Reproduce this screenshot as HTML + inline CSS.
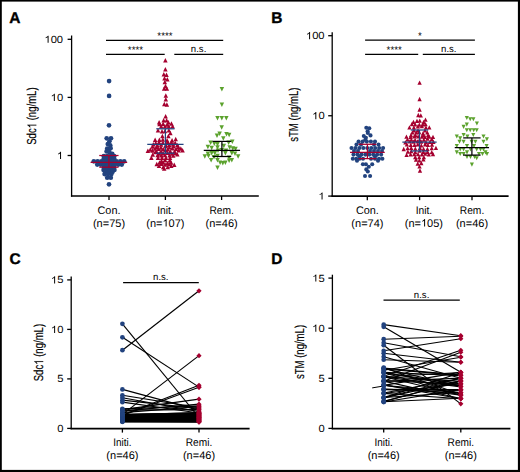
<!DOCTYPE html>
<html><head><meta charset="utf-8"><style>
html,body{margin:0;padding:0;background:#fff;}
svg{display:block;font-family:"Liberation Sans", sans-serif;text-rendering:geometricPrecision;}
.t{}
</style></head><body>
<svg width="520" height="472" viewBox="0 0 520 472">
<rect width="520" height="472" fill="#fff"/>
<rect x="0" y="0" width="520" height="1.6" fill="#000"/>
<rect x="0" y="0" width="1.8" height="472" fill="#000"/>
<rect x="517.9" y="0" width="2.1" height="472" fill="#000"/>
<rect x="0" y="469.9" width="520" height="2.1" fill="#000"/>
<text x="9.30" y="23.00" font-size="15.5" text-anchor="start" font-weight="bold" stroke="#000" stroke-width="0.35">A</text>
<text x="271.20" y="23.00" font-size="15.5" text-anchor="start" font-weight="bold" stroke="#000" stroke-width="0.35">B</text>
<text x="9.60" y="263.60" font-size="15.5" text-anchor="start" font-weight="bold" stroke="#000" stroke-width="0.35">C</text>
<text x="271.20" y="263.60" font-size="15.5" text-anchor="start" font-weight="bold" stroke="#000" stroke-width="0.35">D</text>
<line x1="71.60" y1="35.50" x2="71.60" y2="196.65" stroke="#000" stroke-width="1.3"/>
<line x1="70.95" y1="196.00" x2="258.80" y2="196.00" stroke="#000" stroke-width="1.6"/>
<line x1="67.60" y1="39.30" x2="71.60" y2="39.30" stroke="#000" stroke-width="1.3"/>
<g transform="translate(63.10,42.80) scale(1.0,0.93)"><path d="M763 0H583V1147Q518 1085 412 1023Q306 961 222 930V1104Q373 1175 486 1276Q599 1377 646 1472H763Z" transform="translate(-18.687,0) scale(0.00547,-0.00523)"/><text x="-12.458" y="0" font-size="11.2" class="t" xml:space="preserve">00</text></g>
<line x1="67.60" y1="97.40" x2="71.60" y2="97.40" stroke="#000" stroke-width="1.3"/>
<g transform="translate(63.10,100.90) scale(1.0,0.93)"><path d="M763 0H583V1147Q518 1085 412 1023Q306 961 222 930V1104Q373 1175 486 1276Q599 1377 646 1472H763Z" transform="translate(-12.458,0) scale(0.00547,-0.00523)"/><text x="-6.229" y="0" font-size="11.2" class="t" xml:space="preserve">0</text></g>
<line x1="67.60" y1="155.50" x2="71.60" y2="155.50" stroke="#000" stroke-width="1.3"/>
<g transform="translate(63.10,159.00) scale(1.0,0.93)"><path d="M763 0H583V1147Q518 1085 412 1023Q306 961 222 930V1104Q373 1175 486 1276Q599 1377 646 1472H763Z" transform="translate(-6.229,0) scale(0.00547,-0.00523)"/></g>
<line x1="109.00" y1="196.00" x2="109.00" y2="200.00" stroke="#000" stroke-width="1.3"/>
<text transform="translate(109.00,213.90) scale(0.99,1.0)" font-size="11.0" text-anchor="middle" font-weight="normal" class="t">Con.</text>
<g transform="translate(109.00,226.60) scale(1.0,1.0)"><text x="-16.052" y="0" font-size="11.0" class="t" xml:space="preserve">(n=75)</text></g>
<line x1="165.40" y1="196.00" x2="165.40" y2="200.00" stroke="#000" stroke-width="1.3"/>
<text transform="translate(165.40,213.90) scale(0.93,1.0)" font-size="11.0" text-anchor="middle" font-weight="normal" class="t">Init.</text>
<g transform="translate(165.40,226.60) scale(1.0,1.0)"><text x="-19.110" y="0" font-size="11.0" class="t" xml:space="preserve">(n=</text><path d="M763 0H583V1147Q518 1085 412 1023Q306 961 222 930V1104Q373 1175 486 1276Q599 1377 646 1472H763Z" transform="translate(-2.906,0) scale(0.00537,-0.00514)"/><text x="3.212" y="0" font-size="11.0" class="t" xml:space="preserve">07)</text></g>
<line x1="221.60" y1="196.00" x2="221.60" y2="200.00" stroke="#000" stroke-width="1.3"/>
<text transform="translate(221.60,213.90) scale(0.93,1.0)" font-size="11.0" text-anchor="middle" font-weight="normal" class="t">Rem.</text>
<g transform="translate(221.60,226.60) scale(1.0,1.0)"><text x="-16.052" y="0" font-size="11.0" class="t" xml:space="preserve">(n=46)</text></g>
<g transform="translate(36.30,116.10) rotate(-90) scale(0.735,1.0)"><text x="-39.016" y="0" font-size="13.0" stroke="#000" stroke-width="0.15" xml:space="preserve">Sdc</text><path d="M763 0H583V1147Q518 1085 412 1023Q306 961 222 930V1104Q373 1175 486 1276Q599 1377 646 1472H763Z" transform="translate(-16.615,0) scale(0.00635,-0.00607)" stroke="#000" stroke-width="23.6"/><text x="-9.385" y="0" font-size="13.0" stroke="#000" stroke-width="0.15" xml:space="preserve"> (ng/mL)</text></g>
<line x1="106.00" y1="40.30" x2="223.20" y2="40.30" stroke="#000" stroke-width="1.2"/>
<line x1="106.00" y1="54.40" x2="164.70" y2="54.40" stroke="#000" stroke-width="1.2"/>
<line x1="174.30" y1="54.40" x2="223.20" y2="54.40" stroke="#000" stroke-width="1.2"/>
<text x="165.00" y="39.00" font-size="9.8" text-anchor="middle" font-weight="normal" >****</text>
<text x="135.50" y="53.20" font-size="9.8" text-anchor="middle" font-weight="normal" >****</text>
<text x="198.60" y="52.20" font-size="9.6" text-anchor="middle" font-weight="normal" >n.s.</text>
<circle cx="109.10" cy="81.10" r="2.35" fill="#22437f"/>
<circle cx="109.10" cy="95.90" r="2.35" fill="#22437f"/>
<circle cx="109.00" cy="125.30" r="2.35" fill="#22437f"/>
<circle cx="106.70" cy="138.30" r="2.35" fill="#22437f"/>
<circle cx="111.00" cy="138.30" r="2.35" fill="#22437f"/>
<circle cx="109.40" cy="141.30" r="2.35" fill="#22437f"/>
<circle cx="107.80" cy="144.10" r="2.35" fill="#22437f"/>
<circle cx="110.20" cy="145.30" r="2.35" fill="#22437f"/>
<circle cx="107.20" cy="148.60" r="2.35" fill="#22437f"/>
<circle cx="110.60" cy="148.20" r="2.35" fill="#22437f"/>
<circle cx="106.60" cy="151.40" r="2.35" fill="#22437f"/>
<circle cx="109.40" cy="152.20" r="2.35" fill="#22437f"/>
<circle cx="112.20" cy="153.80" r="2.35" fill="#22437f"/>
<circle cx="103.90" cy="156.20" r="2.35" fill="#22437f"/>
<circle cx="107.30" cy="156.20" r="2.35" fill="#22437f"/>
<circle cx="110.70" cy="156.20" r="2.35" fill="#22437f"/>
<circle cx="114.10" cy="156.20" r="2.35" fill="#22437f"/>
<circle cx="103.90" cy="158.30" r="2.35" fill="#22437f"/>
<circle cx="107.30" cy="158.30" r="2.35" fill="#22437f"/>
<circle cx="110.70" cy="158.30" r="2.35" fill="#22437f"/>
<circle cx="114.10" cy="158.30" r="2.35" fill="#22437f"/>
<circle cx="93.80" cy="161.30" r="2.35" fill="#22437f"/>
<circle cx="97.60" cy="161.30" r="2.35" fill="#22437f"/>
<circle cx="101.40" cy="161.30" r="2.35" fill="#22437f"/>
<circle cx="105.20" cy="161.30" r="2.35" fill="#22437f"/>
<circle cx="109.00" cy="161.30" r="2.35" fill="#22437f"/>
<circle cx="112.80" cy="161.30" r="2.35" fill="#22437f"/>
<circle cx="116.60" cy="161.30" r="2.35" fill="#22437f"/>
<circle cx="120.40" cy="161.30" r="2.35" fill="#22437f"/>
<circle cx="124.20" cy="161.30" r="2.35" fill="#22437f"/>
<circle cx="100.50" cy="163.00" r="2.35" fill="#22437f"/>
<circle cx="103.90" cy="163.00" r="2.35" fill="#22437f"/>
<circle cx="107.30" cy="163.00" r="2.35" fill="#22437f"/>
<circle cx="110.70" cy="163.00" r="2.35" fill="#22437f"/>
<circle cx="114.10" cy="163.00" r="2.35" fill="#22437f"/>
<circle cx="117.50" cy="163.00" r="2.35" fill="#22437f"/>
<circle cx="97.25" cy="164.60" r="2.35" fill="#22437f"/>
<circle cx="100.75" cy="164.60" r="2.35" fill="#22437f"/>
<circle cx="104.25" cy="164.60" r="2.35" fill="#22437f"/>
<circle cx="107.75" cy="164.60" r="2.35" fill="#22437f"/>
<circle cx="111.25" cy="164.60" r="2.35" fill="#22437f"/>
<circle cx="114.75" cy="164.60" r="2.35" fill="#22437f"/>
<circle cx="118.25" cy="164.60" r="2.35" fill="#22437f"/>
<circle cx="121.75" cy="164.60" r="2.35" fill="#22437f"/>
<circle cx="103.90" cy="166.00" r="2.35" fill="#22437f"/>
<circle cx="107.30" cy="166.00" r="2.35" fill="#22437f"/>
<circle cx="110.70" cy="166.00" r="2.35" fill="#22437f"/>
<circle cx="114.10" cy="166.00" r="2.35" fill="#22437f"/>
<circle cx="104.05" cy="168.00" r="2.35" fill="#22437f"/>
<circle cx="107.35" cy="168.00" r="2.35" fill="#22437f"/>
<circle cx="110.65" cy="168.00" r="2.35" fill="#22437f"/>
<circle cx="113.95" cy="168.00" r="2.35" fill="#22437f"/>
<circle cx="103.60" cy="169.90" r="2.35" fill="#22437f"/>
<circle cx="107.20" cy="169.90" r="2.35" fill="#22437f"/>
<circle cx="110.80" cy="169.90" r="2.35" fill="#22437f"/>
<circle cx="114.40" cy="169.90" r="2.35" fill="#22437f"/>
<circle cx="105.40" cy="171.80" r="2.35" fill="#22437f"/>
<circle cx="109.00" cy="171.80" r="2.35" fill="#22437f"/>
<circle cx="112.60" cy="171.80" r="2.35" fill="#22437f"/>
<circle cx="104.60" cy="174.10" r="2.35" fill="#22437f"/>
<circle cx="108.00" cy="174.10" r="2.35" fill="#22437f"/>
<circle cx="111.40" cy="174.10" r="2.35" fill="#22437f"/>
<circle cx="107.20" cy="177.70" r="2.35" fill="#22437f"/>
<circle cx="110.80" cy="177.70" r="2.35" fill="#22437f"/>
<circle cx="109.00" cy="184.30" r="2.35" fill="#22437f"/>
<line x1="108.90" y1="155.50" x2="108.90" y2="167.20" stroke="#a5002f" stroke-width="1.25"/>
<line x1="99.25" y1="155.50" x2="118.55" y2="155.50" stroke="#a5002f" stroke-width="1.25"/>
<line x1="99.25" y1="167.20" x2="118.55" y2="167.20" stroke="#a5002f" stroke-width="1.25"/>
<line x1="90.60" y1="162.40" x2="127.20" y2="162.40" stroke="#a5002f" stroke-width="1.25"/>
<path d="M165.40,58.12L167.65,62.62L163.15,62.62Z" fill="#a5002f"/>
<path d="M165.40,66.93L167.65,71.43L163.15,71.43Z" fill="#a5002f"/>
<path d="M163.80,72.12L166.05,76.62L161.55,76.62Z" fill="#a5002f"/>
<path d="M166.50,72.62L168.75,77.12L164.25,77.12Z" fill="#a5002f"/>
<path d="M164.50,76.12L166.75,80.62L162.25,80.62Z" fill="#a5002f"/>
<path d="M167.30,76.93L169.55,81.43L165.05,81.43Z" fill="#a5002f"/>
<path d="M164.80,79.73L167.05,84.23L162.55,84.23Z" fill="#a5002f"/>
<path d="M165.50,83.83L167.75,88.33L163.25,88.33Z" fill="#a5002f"/>
<path d="M164.10,86.23L166.35,90.73L161.85,90.73Z" fill="#a5002f"/>
<path d="M166.90,86.23L169.15,90.73L164.65,90.73Z" fill="#a5002f"/>
<path d="M165.80,93.33L168.05,97.83L163.55,97.83Z" fill="#a5002f"/>
<path d="M165.80,97.12L168.05,101.62L163.55,101.62Z" fill="#a5002f"/>
<path d="M164.30,101.83L166.55,106.33L162.05,106.33Z" fill="#a5002f"/>
<path d="M166.90,102.33L169.15,106.83L164.65,106.83Z" fill="#a5002f"/>
<path d="M165.60,113.93L167.85,118.43L163.35,118.43Z" fill="#a5002f"/>
<path d="M163.60,118.03L165.85,122.53L161.35,122.53Z" fill="#a5002f"/>
<path d="M166.60,118.03L168.85,122.53L164.35,122.53Z" fill="#a5002f"/>
<path d="M159.10,120.03L161.35,124.53L156.85,124.53Z" fill="#a5002f"/>
<path d="M168.40,120.03L170.65,124.53L166.15,124.53Z" fill="#a5002f"/>
<path d="M159.48,121.85L161.73,126.35L157.23,126.35Z" fill="#a5002f"/>
<path d="M163.13,121.52L165.38,126.02L160.88,126.02Z" fill="#a5002f"/>
<path d="M167.26,122.35L169.51,126.85L165.01,126.85Z" fill="#a5002f"/>
<path d="M171.46,121.25L173.71,125.75L169.21,125.75Z" fill="#a5002f"/>
<path d="M161.20,124.03L163.45,128.53L158.95,128.53Z" fill="#a5002f"/>
<path d="M165.00,124.03L167.25,128.53L162.75,128.53Z" fill="#a5002f"/>
<path d="M168.80,124.03L171.05,128.53L166.55,128.53Z" fill="#a5002f"/>
<path d="M172.60,124.03L174.85,128.53L170.35,128.53Z" fill="#a5002f"/>
<path d="M158.00,128.01L160.25,132.51L155.75,132.51Z" fill="#a5002f"/>
<path d="M162.00,129.12L164.25,133.62L159.75,133.62Z" fill="#a5002f"/>
<path d="M165.01,128.75L167.26,133.25L162.76,133.25Z" fill="#a5002f"/>
<path d="M168.90,127.97L171.15,132.47L166.65,132.47Z" fill="#a5002f"/>
<path d="M170.40,130.72L172.65,135.22L168.15,135.22Z" fill="#a5002f"/>
<path d="M162.40,133.72L164.65,138.22L160.15,138.22Z" fill="#a5002f"/>
<path d="M168.40,133.72L170.65,138.22L166.15,138.22Z" fill="#a5002f"/>
<path d="M155.15,137.49L157.40,141.99L152.90,141.99Z" fill="#a5002f"/>
<path d="M159.37,137.47L161.62,141.97L157.12,141.97Z" fill="#a5002f"/>
<path d="M162.82,137.14L165.07,141.64L160.57,141.64Z" fill="#a5002f"/>
<path d="M167.04,138.11L169.29,142.61L164.79,142.61Z" fill="#a5002f"/>
<path d="M172.06,137.96L174.31,142.46L169.81,142.46Z" fill="#a5002f"/>
<path d="M175.72,136.72L177.97,141.22L173.47,141.22Z" fill="#a5002f"/>
<path d="M155.76,140.74L158.01,145.24L153.51,145.24Z" fill="#a5002f"/>
<path d="M159.00,140.00L161.25,144.50L156.75,144.50Z" fill="#a5002f"/>
<path d="M162.99,140.44L165.24,144.94L160.74,144.94Z" fill="#a5002f"/>
<path d="M167.66,139.43L169.91,143.93L165.41,143.93Z" fill="#a5002f"/>
<path d="M171.38,140.10L173.63,144.60L169.13,144.60Z" fill="#a5002f"/>
<path d="M175.17,140.62L177.42,145.12L172.92,145.12Z" fill="#a5002f"/>
<path d="M153.33,142.06L155.58,146.56L151.08,146.56Z" fill="#a5002f"/>
<path d="M157.44,142.89L159.69,147.39L155.19,147.39Z" fill="#a5002f"/>
<path d="M161.11,142.22L163.36,146.72L158.86,146.72Z" fill="#a5002f"/>
<path d="M165.88,142.76L168.13,147.26L163.63,147.26Z" fill="#a5002f"/>
<path d="M169.34,142.55L171.59,147.05L167.09,147.05Z" fill="#a5002f"/>
<path d="M173.04,142.08L175.29,146.58L170.79,146.58Z" fill="#a5002f"/>
<path d="M177.24,142.67L179.49,147.17L174.99,147.17Z" fill="#a5002f"/>
<path d="M152.54,144.18L154.79,148.68L150.29,148.68Z" fill="#a5002f"/>
<path d="M156.59,144.83L158.84,149.33L154.34,149.33Z" fill="#a5002f"/>
<path d="M160.94,145.27L163.19,149.77L158.69,149.77Z" fill="#a5002f"/>
<path d="M165.75,143.94L168.00,148.44L163.50,148.44Z" fill="#a5002f"/>
<path d="M169.35,144.90L171.60,149.40L167.10,149.40Z" fill="#a5002f"/>
<path d="M173.53,144.04L175.78,148.54L171.28,148.54Z" fill="#a5002f"/>
<path d="M178.42,144.74L180.67,149.24L176.17,149.24Z" fill="#a5002f"/>
<path d="M150.32,147.18L152.57,151.68L148.07,151.68Z" fill="#a5002f"/>
<path d="M154.95,146.23L157.20,150.73L152.70,150.73Z" fill="#a5002f"/>
<path d="M158.56,146.61L160.81,151.11L156.31,151.11Z" fill="#a5002f"/>
<path d="M163.18,146.67L165.43,151.17L160.93,151.17Z" fill="#a5002f"/>
<path d="M167.77,147.00L170.02,151.50L165.52,151.50Z" fill="#a5002f"/>
<path d="M172.31,146.08L174.56,150.58L170.06,150.58Z" fill="#a5002f"/>
<path d="M176.06,146.47L178.31,150.97L173.81,150.97Z" fill="#a5002f"/>
<path d="M180.80,146.32L183.05,150.82L178.55,150.82Z" fill="#a5002f"/>
<path d="M147.90,148.44L150.15,152.94L145.65,152.94Z" fill="#a5002f"/>
<path d="M152.43,148.17L154.68,152.67L150.18,152.67Z" fill="#a5002f"/>
<path d="M156.56,149.20L158.81,153.70L154.31,153.70Z" fill="#a5002f"/>
<path d="M161.05,149.10L163.30,153.60L158.80,153.60Z" fill="#a5002f"/>
<path d="M165.45,147.81L167.70,152.31L163.20,152.31Z" fill="#a5002f"/>
<path d="M170.18,149.06L172.43,153.56L167.93,153.56Z" fill="#a5002f"/>
<path d="M174.45,149.21L176.70,153.71L172.20,153.71Z" fill="#a5002f"/>
<path d="M178.63,147.99L180.88,152.49L176.38,152.49Z" fill="#a5002f"/>
<path d="M182.59,148.07L184.84,152.57L180.34,152.57Z" fill="#a5002f"/>
<path d="M155.30,149.82L157.55,154.32L153.05,154.32Z" fill="#a5002f"/>
<path d="M159.28,151.30L161.53,155.80L157.03,155.80Z" fill="#a5002f"/>
<path d="M163.17,150.98L165.42,155.48L160.92,155.48Z" fill="#a5002f"/>
<path d="M167.36,150.40L169.61,154.90L165.11,154.90Z" fill="#a5002f"/>
<path d="M171.84,151.32L174.09,155.82L169.59,155.82Z" fill="#a5002f"/>
<path d="M175.45,150.87L177.70,155.37L173.20,155.37Z" fill="#a5002f"/>
<path d="M152.77,152.20L155.02,156.70L150.52,156.70Z" fill="#a5002f"/>
<path d="M157.65,152.65L159.90,157.15L155.40,157.15Z" fill="#a5002f"/>
<path d="M161.34,152.92L163.59,157.42L159.09,157.42Z" fill="#a5002f"/>
<path d="M164.97,152.66L167.22,157.16L162.72,157.16Z" fill="#a5002f"/>
<path d="M169.50,153.09L171.75,157.59L167.25,157.59Z" fill="#a5002f"/>
<path d="M173.27,153.26L175.52,157.76L171.02,157.76Z" fill="#a5002f"/>
<path d="M177.30,152.02L179.55,156.52L175.05,156.52Z" fill="#a5002f"/>
<path d="M151.40,155.62L153.65,160.12L149.15,160.12Z" fill="#a5002f"/>
<path d="M158.00,155.62L160.25,160.12L155.75,160.12Z" fill="#a5002f"/>
<path d="M162.00,155.62L164.25,160.12L159.75,160.12Z" fill="#a5002f"/>
<path d="M166.00,155.62L168.25,160.12L163.75,160.12Z" fill="#a5002f"/>
<path d="M170.00,155.62L172.25,160.12L167.75,160.12Z" fill="#a5002f"/>
<path d="M161.49,158.61L163.74,163.11L159.24,163.11Z" fill="#a5002f"/>
<path d="M165.15,157.72L167.40,162.22L162.90,162.22Z" fill="#a5002f"/>
<path d="M169.77,157.92L172.02,162.42L167.52,162.42Z" fill="#a5002f"/>
<path d="M159.49,160.22L161.74,164.72L157.24,164.72Z" fill="#a5002f"/>
<path d="M163.32,160.16L165.57,164.66L161.07,164.66Z" fill="#a5002f"/>
<path d="M167.42,160.72L169.67,165.22L165.17,165.22Z" fill="#a5002f"/>
<path d="M171.12,160.37L173.37,164.87L168.87,164.87Z" fill="#a5002f"/>
<path d="M156.75,161.66L159.00,166.16L154.50,166.16Z" fill="#a5002f"/>
<path d="M161.36,161.50L163.61,166.00L159.11,166.00Z" fill="#a5002f"/>
<path d="M165.22,162.23L167.47,166.73L162.97,166.73Z" fill="#a5002f"/>
<path d="M169.19,161.76L171.44,166.26L166.94,166.26Z" fill="#a5002f"/>
<path d="M174.28,162.62L176.53,167.12L172.03,167.12Z" fill="#a5002f"/>
<path d="M158.99,163.57L161.24,168.07L156.74,168.07Z" fill="#a5002f"/>
<path d="M163.17,164.72L165.42,169.22L160.92,169.22Z" fill="#a5002f"/>
<path d="M167.77,164.63L170.02,169.13L165.52,169.13Z" fill="#a5002f"/>
<path d="M171.27,163.48L173.52,167.98L169.02,167.98Z" fill="#a5002f"/>
<path d="M164.20,166.22L166.45,170.72L161.95,170.72Z" fill="#a5002f"/>
<line x1="165.40" y1="128.80" x2="165.40" y2="153.20" stroke="#22437f" stroke-width="1.25"/>
<line x1="156.25" y1="128.80" x2="174.55" y2="128.80" stroke="#22437f" stroke-width="1.25"/>
<line x1="156.25" y1="153.20" x2="174.55" y2="153.20" stroke="#22437f" stroke-width="1.25"/>
<line x1="147.25" y1="144.30" x2="183.55" y2="144.30" stroke="#22437f" stroke-width="1.25"/>
<path d="M221.90,91.38L224.15,86.88L219.65,86.88Z" fill="#5ba22d"/>
<path d="M221.90,106.88L224.15,102.38L219.65,102.38Z" fill="#5ba22d"/>
<path d="M217.50,120.57L219.75,116.07L215.25,116.07Z" fill="#5ba22d"/>
<path d="M221.80,120.57L224.05,116.07L219.55,116.07Z" fill="#5ba22d"/>
<path d="M226.30,120.57L228.55,116.07L224.05,116.07Z" fill="#5ba22d"/>
<path d="M221.70,129.78L223.95,125.27L219.45,125.27Z" fill="#5ba22d"/>
<path d="M219.60,135.97L221.85,131.47L217.35,131.47Z" fill="#5ba22d"/>
<path d="M217.00,138.07L219.25,133.57L214.75,133.57Z" fill="#5ba22d"/>
<path d="M226.50,136.47L228.75,131.97L224.25,131.97Z" fill="#5ba22d"/>
<path d="M229.10,137.17L231.35,132.67L226.85,132.67Z" fill="#5ba22d"/>
<path d="M223.30,140.67L225.55,136.17L221.05,136.17Z" fill="#5ba22d"/>
<path d="M210.60,144.97L212.85,140.47L208.35,140.47Z" fill="#5ba22d"/>
<path d="M214.30,145.97L216.55,141.47L212.05,141.47Z" fill="#5ba22d"/>
<path d="M217.50,146.38L219.75,141.88L215.25,141.88Z" fill="#5ba22d"/>
<path d="M228.60,144.97L230.85,140.47L226.35,140.47Z" fill="#5ba22d"/>
<path d="M232.30,143.88L234.55,139.38L230.05,139.38Z" fill="#5ba22d"/>
<path d="M207.90,149.17L210.15,144.67L205.65,144.67Z" fill="#5ba22d"/>
<path d="M211.70,150.28L213.95,145.78L209.45,145.78Z" fill="#5ba22d"/>
<path d="M217.50,149.67L219.75,145.17L215.25,145.17Z" fill="#5ba22d"/>
<path d="M223.80,148.17L226.05,143.67L221.55,143.67Z" fill="#5ba22d"/>
<path d="M229.70,149.67L231.95,145.17L227.45,145.17Z" fill="#5ba22d"/>
<path d="M232.80,150.78L235.05,146.28L230.55,146.28Z" fill="#5ba22d"/>
<path d="M235.50,151.28L237.75,146.78L233.25,146.78Z" fill="#5ba22d"/>
<path d="M207.90,156.07L210.15,151.57L205.65,151.57Z" fill="#5ba22d"/>
<path d="M211.70,155.57L213.95,151.07L209.45,151.07Z" fill="#5ba22d"/>
<path d="M214.80,155.57L217.05,151.07L212.55,151.07Z" fill="#5ba22d"/>
<path d="M217.50,158.17L219.75,153.67L215.25,153.67Z" fill="#5ba22d"/>
<path d="M225.40,155.57L227.65,151.07L223.15,151.07Z" fill="#5ba22d"/>
<path d="M231.80,155.57L234.05,151.07L229.55,151.07Z" fill="#5ba22d"/>
<path d="M235.00,156.07L237.25,151.57L232.75,151.57Z" fill="#5ba22d"/>
<path d="M204.80,158.67L207.05,154.17L202.55,154.17Z" fill="#5ba22d"/>
<path d="M238.10,158.67L240.35,154.17L235.85,154.17Z" fill="#5ba22d"/>
<path d="M208.50,158.17L210.75,153.67L206.25,153.67Z" fill="#5ba22d"/>
<path d="M211.10,162.47L213.35,157.97L208.85,157.97Z" fill="#5ba22d"/>
<path d="M217.50,162.47L219.75,157.97L215.25,157.97Z" fill="#5ba22d"/>
<path d="M220.10,165.07L222.35,160.57L217.85,160.57Z" fill="#5ba22d"/>
<path d="M222.80,165.57L225.05,161.07L220.55,161.07Z" fill="#5ba22d"/>
<path d="M225.40,165.07L227.65,160.57L223.15,160.57Z" fill="#5ba22d"/>
<path d="M229.10,162.97L231.35,158.47L226.85,158.47Z" fill="#5ba22d"/>
<path d="M231.80,162.47L234.05,157.97L229.55,157.97Z" fill="#5ba22d"/>
<path d="M217.50,169.88L219.75,165.38L215.25,165.38Z" fill="#5ba22d"/>
<path d="M221.90,152.47L224.15,147.97L219.65,147.97Z" fill="#5ba22d"/>
<path d="M218.00,152.97L220.25,148.47L215.75,148.47Z" fill="#5ba22d"/>
<path d="M226.00,152.97L228.25,148.47L223.75,148.47Z" fill="#5ba22d"/>
<path d="M214.00,159.47L216.25,154.97L211.75,154.97Z" fill="#5ba22d"/>
<path d="M229.00,159.97L231.25,155.47L226.75,155.47Z" fill="#5ba22d"/>
<line x1="221.90" y1="141.40" x2="221.90" y2="156.50" stroke="#000" stroke-width="1.25"/>
<line x1="212.55" y1="141.40" x2="231.25" y2="141.40" stroke="#000" stroke-width="1.25"/>
<line x1="212.55" y1="156.50" x2="231.25" y2="156.50" stroke="#000" stroke-width="1.25"/>
<line x1="203.75" y1="150.40" x2="240.05" y2="150.40" stroke="#000" stroke-width="1.25"/>
<line x1="332.20" y1="32.20" x2="332.20" y2="196.80" stroke="#000" stroke-width="1.3"/>
<line x1="331.55" y1="196.15" x2="508.60" y2="196.15" stroke="#000" stroke-width="1.6"/>
<line x1="328.20" y1="35.70" x2="332.20" y2="35.70" stroke="#000" stroke-width="1.3"/>
<g transform="translate(324.60,39.20) scale(1.0,0.93)"><path d="M763 0H583V1147Q518 1085 412 1023Q306 961 222 930V1104Q373 1175 486 1276Q599 1377 646 1472H763Z" transform="translate(-18.687,0) scale(0.00547,-0.00523)"/><text x="-12.458" y="0" font-size="11.2" class="t" xml:space="preserve">00</text></g>
<line x1="328.20" y1="115.75" x2="332.20" y2="115.75" stroke="#000" stroke-width="1.3"/>
<g transform="translate(324.60,119.25) scale(1.0,0.93)"><path d="M763 0H583V1147Q518 1085 412 1023Q306 961 222 930V1104Q373 1175 486 1276Q599 1377 646 1472H763Z" transform="translate(-12.458,0) scale(0.00547,-0.00523)"/><text x="-6.229" y="0" font-size="11.2" class="t" xml:space="preserve">0</text></g>
<line x1="328.20" y1="196.10" x2="332.20" y2="196.10" stroke="#000" stroke-width="1.3"/>
<g transform="translate(324.60,199.60) scale(1.0,0.93)"><path d="M763 0H583V1147Q518 1085 412 1023Q306 961 222 930V1104Q373 1175 486 1276Q599 1377 646 1472H763Z" transform="translate(-6.229,0) scale(0.00547,-0.00523)"/></g>
<line x1="367.30" y1="196.15" x2="367.30" y2="200.15" stroke="#000" stroke-width="1.3"/>
<text transform="translate(367.40,213.90) scale(0.99,1.0)" font-size="11.0" text-anchor="middle" font-weight="normal" class="t">Con.</text>
<g transform="translate(367.40,226.60) scale(1.0,1.0)"><text x="-16.052" y="0" font-size="11.0" class="t" xml:space="preserve">(n=74)</text></g>
<line x1="419.60" y1="196.15" x2="419.60" y2="200.15" stroke="#000" stroke-width="1.3"/>
<text transform="translate(423.90,213.90) scale(0.93,1.0)" font-size="11.0" text-anchor="middle" font-weight="normal" class="t">Init.</text>
<g transform="translate(423.90,226.60) scale(1.0,1.0)"><text x="-19.110" y="0" font-size="11.0" class="t" xml:space="preserve">(n=</text><path d="M763 0H583V1147Q518 1085 412 1023Q306 961 222 930V1104Q373 1175 486 1276Q599 1377 646 1472H763Z" transform="translate(-2.906,0) scale(0.00537,-0.00514)"/><text x="3.212" y="0" font-size="11.0" class="t" xml:space="preserve">05)</text></g>
<line x1="472.00" y1="196.15" x2="472.00" y2="200.15" stroke="#000" stroke-width="1.3"/>
<text transform="translate(472.00,213.90) scale(0.93,1.0)" font-size="11.0" text-anchor="middle" font-weight="normal" class="t">Rem.</text>
<g transform="translate(472.00,226.60) scale(1.0,1.0)"><text x="-16.052" y="0" font-size="11.0" class="t" xml:space="preserve">(n=46)</text></g>
<g transform="translate(297.80,114.70) rotate(-90) scale(0.735,1.0)"><text x="-36.835" y="0" font-size="13.0" stroke="#000" stroke-width="0.15" xml:space="preserve">sTM (ng/mL)</text></g>
<line x1="365.10" y1="40.20" x2="474.90" y2="40.20" stroke="#000" stroke-width="1.2"/>
<line x1="365.10" y1="54.30" x2="418.20" y2="54.30" stroke="#000" stroke-width="1.2"/>
<line x1="422.80" y1="54.30" x2="474.90" y2="54.30" stroke="#000" stroke-width="1.2"/>
<text x="420.00" y="39.00" font-size="9.8" text-anchor="middle" font-weight="normal" >*</text>
<text x="394.20" y="53.20" font-size="9.8" text-anchor="middle" font-weight="normal" >****</text>
<text x="448.80" y="52.20" font-size="9.6" text-anchor="middle" font-weight="normal" >n.s.</text>
<circle cx="366.30" cy="127.80" r="2.05" fill="#22437f"/>
<circle cx="369.30" cy="128.30" r="2.05" fill="#22437f"/>
<circle cx="367.60" cy="131.30" r="2.05" fill="#22437f"/>
<circle cx="367.80" cy="133.00" r="2.05" fill="#22437f"/>
<circle cx="363.80" cy="136.00" r="2.05" fill="#22437f"/>
<circle cx="370.50" cy="135.40" r="2.05" fill="#22437f"/>
<circle cx="365.90" cy="137.70" r="2.05" fill="#22437f"/>
<circle cx="365.30" cy="139.80" r="2.05" fill="#22437f"/>
<circle cx="358.60" cy="141.60" r="2.05" fill="#22437f"/>
<circle cx="362.70" cy="141.60" r="2.05" fill="#22437f"/>
<circle cx="366.80" cy="141.60" r="2.05" fill="#22437f"/>
<circle cx="370.90" cy="141.60" r="2.05" fill="#22437f"/>
<circle cx="375.00" cy="141.60" r="2.05" fill="#22437f"/>
<circle cx="356.50" cy="144.60" r="2.05" fill="#22437f"/>
<circle cx="361.00" cy="144.60" r="2.05" fill="#22437f"/>
<circle cx="374.00" cy="144.60" r="2.05" fill="#22437f"/>
<circle cx="378.50" cy="144.60" r="2.05" fill="#22437f"/>
<circle cx="351.50" cy="148.00" r="2.05" fill="#22437f"/>
<circle cx="355.45" cy="148.00" r="2.05" fill="#22437f"/>
<circle cx="359.40" cy="148.00" r="2.05" fill="#22437f"/>
<circle cx="363.35" cy="148.00" r="2.05" fill="#22437f"/>
<circle cx="367.30" cy="148.00" r="2.05" fill="#22437f"/>
<circle cx="371.25" cy="148.00" r="2.05" fill="#22437f"/>
<circle cx="375.20" cy="148.00" r="2.05" fill="#22437f"/>
<circle cx="379.15" cy="148.00" r="2.05" fill="#22437f"/>
<circle cx="383.10" cy="148.00" r="2.05" fill="#22437f"/>
<circle cx="354.00" cy="151.00" r="2.05" fill="#22437f"/>
<circle cx="358.00" cy="151.00" r="2.05" fill="#22437f"/>
<circle cx="370.00" cy="151.00" r="2.05" fill="#22437f"/>
<circle cx="374.00" cy="151.00" r="2.05" fill="#22437f"/>
<circle cx="378.00" cy="151.00" r="2.05" fill="#22437f"/>
<circle cx="382.00" cy="151.00" r="2.05" fill="#22437f"/>
<circle cx="353.48" cy="154.60" r="2.05" fill="#22437f"/>
<circle cx="357.43" cy="154.60" r="2.05" fill="#22437f"/>
<circle cx="361.38" cy="154.60" r="2.05" fill="#22437f"/>
<circle cx="365.32" cy="154.60" r="2.05" fill="#22437f"/>
<circle cx="369.28" cy="154.60" r="2.05" fill="#22437f"/>
<circle cx="373.23" cy="154.60" r="2.05" fill="#22437f"/>
<circle cx="377.18" cy="154.60" r="2.05" fill="#22437f"/>
<circle cx="381.12" cy="154.60" r="2.05" fill="#22437f"/>
<circle cx="359.50" cy="156.20" r="2.05" fill="#22437f"/>
<circle cx="375.00" cy="156.20" r="2.05" fill="#22437f"/>
<circle cx="352.80" cy="158.80" r="2.05" fill="#22437f"/>
<circle cx="356.20" cy="158.80" r="2.05" fill="#22437f"/>
<circle cx="359.50" cy="158.80" r="2.05" fill="#22437f"/>
<circle cx="363.00" cy="158.80" r="2.05" fill="#22437f"/>
<circle cx="371.00" cy="158.80" r="2.05" fill="#22437f"/>
<circle cx="375.00" cy="158.80" r="2.05" fill="#22437f"/>
<circle cx="379.00" cy="158.80" r="2.05" fill="#22437f"/>
<circle cx="382.40" cy="158.80" r="2.05" fill="#22437f"/>
<circle cx="357.00" cy="160.80" r="2.05" fill="#22437f"/>
<circle cx="378.00" cy="160.80" r="2.05" fill="#22437f"/>
<circle cx="362.90" cy="164.30" r="2.05" fill="#22437f"/>
<circle cx="365.90" cy="164.30" r="2.05" fill="#22437f"/>
<circle cx="372.20" cy="164.30" r="2.05" fill="#22437f"/>
<circle cx="368.80" cy="166.80" r="2.05" fill="#22437f"/>
<circle cx="366.30" cy="169.40" r="2.05" fill="#22437f"/>
<circle cx="367.80" cy="171.50" r="2.05" fill="#22437f"/>
<circle cx="365.00" cy="176.00" r="2.05" fill="#22437f"/>
<circle cx="370.10" cy="176.00" r="2.05" fill="#22437f"/>
<line x1="367.40" y1="144.30" x2="367.40" y2="158.60" stroke="#a5002f" stroke-width="1.25"/>
<line x1="358.50" y1="144.30" x2="376.30" y2="144.30" stroke="#a5002f" stroke-width="1.25"/>
<line x1="358.50" y1="158.60" x2="376.30" y2="158.60" stroke="#a5002f" stroke-width="1.25"/>
<line x1="350.05" y1="152.40" x2="384.75" y2="152.40" stroke="#a5002f" stroke-width="1.25"/>
<path d="M419.60,80.44L421.75,84.73L417.45,84.73Z" fill="#a5002f"/>
<path d="M419.60,96.84L421.75,101.14L417.45,101.14Z" fill="#a5002f"/>
<path d="M419.60,107.34L421.75,111.64L417.45,111.64Z" fill="#a5002f"/>
<path d="M418.30,112.84L420.45,117.14L416.15,117.14Z" fill="#a5002f"/>
<path d="M420.80,113.23L422.95,117.53L418.65,117.53Z" fill="#a5002f"/>
<path d="M425.50,117.44L427.65,121.73L423.35,121.73Z" fill="#a5002f"/>
<path d="M413.48,119.71L415.63,124.01L411.33,124.01Z" fill="#a5002f"/>
<path d="M416.98,118.67L419.13,122.97L414.83,122.97Z" fill="#a5002f"/>
<path d="M419.76,118.50L421.91,122.80L417.61,122.80Z" fill="#a5002f"/>
<path d="M423.67,119.75L425.82,124.05L421.52,124.05Z" fill="#a5002f"/>
<path d="M411.91,121.83L414.06,126.13L409.76,126.13Z" fill="#a5002f"/>
<path d="M415.17,122.32L417.32,126.62L413.02,126.62Z" fill="#a5002f"/>
<path d="M419.35,122.40L421.50,126.70L417.20,126.70Z" fill="#a5002f"/>
<path d="M422.80,122.25L424.95,126.55L420.65,126.55Z" fill="#a5002f"/>
<path d="M425.54,122.01L427.69,126.31L423.39,126.31Z" fill="#a5002f"/>
<path d="M409.44,125.32L411.59,129.62L407.29,129.62Z" fill="#a5002f"/>
<path d="M413.89,125.22L416.04,129.52L411.74,129.52Z" fill="#a5002f"/>
<path d="M417.90,124.26L420.05,128.56L415.75,128.56Z" fill="#a5002f"/>
<path d="M421.88,124.01L424.03,128.31L419.73,128.31Z" fill="#a5002f"/>
<path d="M425.96,125.21L428.11,129.51L423.81,129.51Z" fill="#a5002f"/>
<path d="M429.33,125.14L431.48,129.44L427.18,129.44Z" fill="#a5002f"/>
<path d="M414.00,128.13L416.15,132.44L411.85,132.44Z" fill="#a5002f"/>
<path d="M418.00,128.13L420.15,132.44L415.85,132.44Z" fill="#a5002f"/>
<path d="M425.00,128.13L427.15,132.44L422.85,132.44Z" fill="#a5002f"/>
<path d="M412.36,130.22L414.51,134.52L410.21,134.52Z" fill="#a5002f"/>
<path d="M416.28,130.10L418.43,134.40L414.13,134.40Z" fill="#a5002f"/>
<path d="M419.14,130.04L421.29,134.34L416.99,134.34Z" fill="#a5002f"/>
<path d="M423.04,131.12L425.19,135.42L420.89,135.42Z" fill="#a5002f"/>
<path d="M427.25,130.18L429.40,134.48L425.10,134.48Z" fill="#a5002f"/>
<path d="M411.00,132.94L413.15,137.24L408.85,137.24Z" fill="#a5002f"/>
<path d="M415.50,132.94L417.65,137.24L413.35,137.24Z" fill="#a5002f"/>
<path d="M423.50,132.94L425.65,137.24L421.35,137.24Z" fill="#a5002f"/>
<path d="M428.00,132.94L430.15,137.24L425.85,137.24Z" fill="#a5002f"/>
<path d="M406.44,134.57L408.59,138.87L404.29,138.87Z" fill="#a5002f"/>
<path d="M410.56,134.79L412.71,139.09L408.41,139.09Z" fill="#a5002f"/>
<path d="M414.32,134.12L416.47,138.42L412.17,138.42Z" fill="#a5002f"/>
<path d="M418.15,134.22L420.30,138.52L416.00,138.52Z" fill="#a5002f"/>
<path d="M421.94,134.36L424.09,138.66L419.79,138.66Z" fill="#a5002f"/>
<path d="M424.92,134.63L427.07,138.93L422.77,138.93Z" fill="#a5002f"/>
<path d="M429.32,134.44L431.47,138.74L427.17,138.74Z" fill="#a5002f"/>
<path d="M433.00,134.75L435.15,139.05L430.85,139.05Z" fill="#a5002f"/>
<path d="M407.49,137.26L409.64,141.56L405.34,141.56Z" fill="#a5002f"/>
<path d="M411.36,137.47L413.51,141.77L409.21,141.77Z" fill="#a5002f"/>
<path d="M415.12,137.82L417.27,142.12L412.97,142.12Z" fill="#a5002f"/>
<path d="M419.64,137.49L421.79,141.79L417.49,141.79Z" fill="#a5002f"/>
<path d="M423.83,137.41L425.98,141.71L421.68,141.71Z" fill="#a5002f"/>
<path d="M427.47,136.45L429.62,140.75L425.32,140.75Z" fill="#a5002f"/>
<path d="M431.76,136.86L433.91,141.16L429.61,141.16Z" fill="#a5002f"/>
<path d="M405.42,140.19L407.57,144.49L403.27,144.49Z" fill="#a5002f"/>
<path d="M409.81,139.32L411.96,143.62L407.66,143.62Z" fill="#a5002f"/>
<path d="M413.42,139.49L415.57,143.79L411.27,143.79Z" fill="#a5002f"/>
<path d="M417.51,139.31L419.66,143.61L415.36,143.61Z" fill="#a5002f"/>
<path d="M421.24,139.51L423.39,143.81L419.09,143.81Z" fill="#a5002f"/>
<path d="M426.02,139.92L428.17,144.22L423.87,144.22Z" fill="#a5002f"/>
<path d="M429.99,139.82L432.14,144.12L427.84,144.12Z" fill="#a5002f"/>
<path d="M433.41,139.71L435.56,144.01L431.26,144.01Z" fill="#a5002f"/>
<path d="M406.87,142.29L409.02,146.59L404.72,146.59Z" fill="#a5002f"/>
<path d="M410.78,142.76L412.93,147.06L408.63,147.06Z" fill="#a5002f"/>
<path d="M414.50,142.58L416.65,146.88L412.35,146.88Z" fill="#a5002f"/>
<path d="M417.79,142.18L419.94,146.48L415.64,146.48Z" fill="#a5002f"/>
<path d="M421.32,143.28L423.47,147.58L419.17,147.58Z" fill="#a5002f"/>
<path d="M425.13,142.11L427.28,146.41L422.98,146.41Z" fill="#a5002f"/>
<path d="M427.95,142.66L430.10,146.96L425.80,146.96Z" fill="#a5002f"/>
<path d="M431.98,142.37L434.13,146.67L429.83,146.67Z" fill="#a5002f"/>
<path d="M403.71,146.84L405.86,151.14L401.56,151.14Z" fill="#a5002f"/>
<path d="M407.62,145.99L409.77,150.29L405.47,150.29Z" fill="#a5002f"/>
<path d="M411.21,145.67L413.36,149.97L409.06,149.97Z" fill="#a5002f"/>
<path d="M415.31,146.40L417.46,150.70L413.16,150.70Z" fill="#a5002f"/>
<path d="M419.94,145.75L422.09,150.05L417.79,150.05Z" fill="#a5002f"/>
<path d="M423.57,146.64L425.72,150.94L421.42,150.94Z" fill="#a5002f"/>
<path d="M427.41,146.75L429.56,151.05L425.26,151.05Z" fill="#a5002f"/>
<path d="M431.74,146.03L433.89,150.33L429.59,150.33Z" fill="#a5002f"/>
<path d="M435.95,145.64L438.10,149.94L433.80,149.94Z" fill="#a5002f"/>
<path d="M407.84,149.57L409.99,153.87L405.69,153.87Z" fill="#a5002f"/>
<path d="M411.22,149.02L413.37,153.32L409.07,153.32Z" fill="#a5002f"/>
<path d="M415.29,149.87L417.44,154.17L413.14,154.17Z" fill="#a5002f"/>
<path d="M419.62,148.42L421.77,152.72L417.47,152.72Z" fill="#a5002f"/>
<path d="M423.36,149.69L425.51,153.99L421.21,153.99Z" fill="#a5002f"/>
<path d="M427.56,149.62L429.71,153.92L425.41,153.92Z" fill="#a5002f"/>
<path d="M431.76,149.92L433.91,154.22L429.61,154.22Z" fill="#a5002f"/>
<path d="M406.57,152.66L408.72,156.96L404.42,156.96Z" fill="#a5002f"/>
<path d="M410.60,152.12L412.75,156.42L408.45,156.42Z" fill="#a5002f"/>
<path d="M414.19,151.94L416.34,156.24L412.04,156.24Z" fill="#a5002f"/>
<path d="M418.04,152.01L420.19,156.31L415.89,156.31Z" fill="#a5002f"/>
<path d="M421.86,152.32L424.01,156.62L419.71,156.62Z" fill="#a5002f"/>
<path d="M425.20,151.55L427.35,155.85L423.05,155.85Z" fill="#a5002f"/>
<path d="M428.73,152.16L430.88,156.46L426.58,156.46Z" fill="#a5002f"/>
<path d="M432.98,151.97L435.13,156.27L430.83,156.27Z" fill="#a5002f"/>
<path d="M415.22,154.97L417.37,159.27L413.07,159.27Z" fill="#a5002f"/>
<path d="M419.19,154.99L421.34,159.29L417.04,159.29Z" fill="#a5002f"/>
<path d="M423.88,155.05L426.03,159.35L421.73,159.35Z" fill="#a5002f"/>
<path d="M416.04,157.36L418.19,161.66L413.89,161.66Z" fill="#a5002f"/>
<path d="M419.34,158.25L421.49,162.55L417.19,162.55Z" fill="#a5002f"/>
<path d="M423.40,157.24L425.55,161.54L421.25,161.54Z" fill="#a5002f"/>
<path d="M417.71,161.40L419.86,165.70L415.56,165.70Z" fill="#a5002f"/>
<path d="M421.32,160.87L423.47,165.17L419.17,165.17Z" fill="#a5002f"/>
<path d="M419.52,164.28L421.67,168.58L417.37,168.58Z" fill="#a5002f"/>
<path d="M419.98,168.35L422.13,172.65L417.83,172.65Z" fill="#a5002f"/>
<line x1="419.50" y1="130.00" x2="419.50" y2="151.00" stroke="#22437f" stroke-width="1.25"/>
<line x1="410.75" y1="130.00" x2="428.25" y2="130.00" stroke="#22437f" stroke-width="1.25"/>
<line x1="410.75" y1="151.00" x2="428.25" y2="151.00" stroke="#22437f" stroke-width="1.25"/>
<line x1="402.35" y1="142.10" x2="436.65" y2="142.10" stroke="#22437f" stroke-width="1.25"/>
<path d="M466.80,120.05L468.85,115.95L464.75,115.95Z" fill="#5ba22d"/>
<path d="M470.20,121.25L472.25,117.16L468.15,117.16Z" fill="#5ba22d"/>
<path d="M473.40,121.25L475.45,117.16L471.35,117.16Z" fill="#5ba22d"/>
<path d="M466.80,126.66L468.85,122.56L464.75,122.56Z" fill="#5ba22d"/>
<path d="M476.90,125.55L478.95,121.45L474.85,121.45Z" fill="#5ba22d"/>
<path d="M463.60,128.96L465.65,124.86L461.55,124.86Z" fill="#5ba22d"/>
<path d="M466.80,132.25L468.85,128.16L464.75,128.16Z" fill="#5ba22d"/>
<path d="M470.20,132.25L472.25,128.16L468.15,128.16Z" fill="#5ba22d"/>
<path d="M473.70,132.25L475.75,128.16L471.65,128.16Z" fill="#5ba22d"/>
<path d="M476.70,132.25L478.75,128.16L474.65,128.16Z" fill="#5ba22d"/>
<path d="M463.60,137.06L465.65,132.96L461.55,132.96Z" fill="#5ba22d"/>
<path d="M473.30,137.06L475.35,132.96L471.25,132.96Z" fill="#5ba22d"/>
<path d="M456.80,138.56L458.85,134.46L454.75,134.46Z" fill="#5ba22d"/>
<path d="M467.40,138.56L469.45,134.46L465.35,134.46Z" fill="#5ba22d"/>
<path d="M483.50,138.56L485.55,134.46L481.45,134.46Z" fill="#5ba22d"/>
<path d="M460.20,140.45L462.25,136.35L458.15,136.35Z" fill="#5ba22d"/>
<path d="M486.90,141.25L488.95,137.16L484.85,137.16Z" fill="#5ba22d"/>
<path d="M459.50,143.75L461.55,139.66L457.45,139.66Z" fill="#5ba22d"/>
<path d="M463.60,143.75L465.65,139.66L461.55,139.66Z" fill="#5ba22d"/>
<path d="M471.60,143.75L473.65,139.66L469.55,139.66Z" fill="#5ba22d"/>
<path d="M475.40,143.75L477.45,139.66L473.35,139.66Z" fill="#5ba22d"/>
<path d="M483.50,143.75L485.55,139.66L481.45,139.66Z" fill="#5ba22d"/>
<path d="M456.80,148.06L458.85,143.96L454.75,143.96Z" fill="#5ba22d"/>
<path d="M467.00,148.06L469.05,143.96L464.95,143.96Z" fill="#5ba22d"/>
<path d="M474.00,148.06L476.05,143.96L471.95,143.96Z" fill="#5ba22d"/>
<path d="M486.60,148.06L488.65,143.96L484.55,143.96Z" fill="#5ba22d"/>
<path d="M460.20,151.45L462.25,147.35L458.15,147.35Z" fill="#5ba22d"/>
<path d="M463.60,151.45L465.65,147.35L461.55,147.35Z" fill="#5ba22d"/>
<path d="M470.50,151.45L472.55,147.35L468.45,147.35Z" fill="#5ba22d"/>
<path d="M476.70,151.45L478.75,147.35L474.65,147.35Z" fill="#5ba22d"/>
<path d="M480.50,151.45L482.55,147.35L478.45,147.35Z" fill="#5ba22d"/>
<path d="M483.50,151.45L485.55,147.35L481.45,147.35Z" fill="#5ba22d"/>
<path d="M456.80,154.45L458.85,150.35L454.75,150.35Z" fill="#5ba22d"/>
<path d="M467.00,154.45L469.05,150.35L464.95,150.35Z" fill="#5ba22d"/>
<path d="M485.50,154.45L487.55,150.35L483.45,150.35Z" fill="#5ba22d"/>
<path d="M460.20,156.06L462.25,151.96L458.15,151.96Z" fill="#5ba22d"/>
<path d="M463.60,156.06L465.65,151.96L461.55,151.96Z" fill="#5ba22d"/>
<path d="M479.00,156.06L481.05,151.96L476.95,151.96Z" fill="#5ba22d"/>
<path d="M482.50,156.06L484.55,151.96L480.45,151.96Z" fill="#5ba22d"/>
<path d="M487.00,156.06L489.05,151.96L484.95,151.96Z" fill="#5ba22d"/>
<path d="M467.00,159.06L469.05,154.96L464.95,154.96Z" fill="#5ba22d"/>
<path d="M470.50,159.06L472.55,154.96L468.45,154.96Z" fill="#5ba22d"/>
<path d="M474.60,159.06L476.65,154.96L472.55,154.96Z" fill="#5ba22d"/>
<path d="M476.70,160.35L478.75,156.25L474.65,156.25Z" fill="#5ba22d"/>
<path d="M471.90,166.66L473.95,162.56L469.85,162.56Z" fill="#5ba22d"/>
<line x1="471.90" y1="137.90" x2="471.90" y2="155.10" stroke="#000" stroke-width="1.25"/>
<line x1="463.20" y1="137.90" x2="480.60" y2="137.90" stroke="#000" stroke-width="1.25"/>
<line x1="463.20" y1="155.10" x2="480.60" y2="155.10" stroke="#000" stroke-width="1.25"/>
<line x1="454.75" y1="147.60" x2="489.05" y2="147.60" stroke="#000" stroke-width="1.25"/>
<line x1="71.20" y1="276.40" x2="71.20" y2="429.25" stroke="#000" stroke-width="1.3"/>
<line x1="70.55" y1="428.60" x2="249.60" y2="428.60" stroke="#000" stroke-width="1.6"/>
<line x1="67.20" y1="279.90" x2="71.20" y2="279.90" stroke="#000" stroke-width="1.3"/>
<g transform="translate(63.40,283.40) scale(1.0,0.93)"><path d="M763 0H583V1147Q518 1085 412 1023Q306 961 222 930V1104Q373 1175 486 1276Q599 1377 646 1472H763Z" transform="translate(-12.458,0) scale(0.00547,-0.00523)"/><text x="-6.229" y="0" font-size="11.2" class="t" xml:space="preserve">5</text></g>
<line x1="67.20" y1="329.40" x2="71.20" y2="329.40" stroke="#000" stroke-width="1.3"/>
<g transform="translate(63.40,332.90) scale(1.0,0.93)"><path d="M763 0H583V1147Q518 1085 412 1023Q306 961 222 930V1104Q373 1175 486 1276Q599 1377 646 1472H763Z" transform="translate(-12.458,0) scale(0.00547,-0.00523)"/><text x="-6.229" y="0" font-size="11.2" class="t" xml:space="preserve">0</text></g>
<line x1="67.20" y1="378.90" x2="71.20" y2="378.90" stroke="#000" stroke-width="1.3"/>
<g transform="translate(63.40,382.40) scale(1.0,0.93)"><text x="-6.229" y="0" font-size="11.2" class="t" xml:space="preserve">5</text></g>
<line x1="67.20" y1="428.40" x2="71.20" y2="428.40" stroke="#000" stroke-width="1.3"/>
<g transform="translate(63.40,431.90) scale(1.0,0.93)"><text x="-6.229" y="0" font-size="11.2" class="t" xml:space="preserve">0</text></g>
<line x1="122.40" y1="428.60" x2="122.40" y2="432.60" stroke="#000" stroke-width="1.3"/>
<text transform="translate(122.40,446.40) scale(0.9,1.0)" font-size="11.0" text-anchor="middle" font-weight="normal" class="t">Initi.</text>
<g transform="translate(122.40,459.00) scale(1.0,1.0)"><text x="-16.052" y="0" font-size="11.0" class="t" xml:space="preserve">(n=46)</text></g>
<line x1="199.00" y1="428.60" x2="199.00" y2="432.60" stroke="#000" stroke-width="1.3"/>
<text transform="translate(199.00,446.40) scale(0.92,1.0)" font-size="11.0" text-anchor="middle" font-weight="normal" class="t">Remi.</text>
<g transform="translate(199.00,459.00) scale(1.0,1.0)"><text x="-16.052" y="0" font-size="11.0" class="t" xml:space="preserve">(n=46)</text></g>
<g transform="translate(43.20,352.60) rotate(-90) scale(0.735,1.0)"><text x="-39.016" y="0" font-size="13.0" stroke="#000" stroke-width="0.15" xml:space="preserve">Sdc</text><path d="M763 0H583V1147Q518 1085 412 1023Q306 961 222 930V1104Q373 1175 486 1276Q599 1377 646 1472H763Z" transform="translate(-16.615,0) scale(0.00635,-0.00607)" stroke="#000" stroke-width="23.6"/><text x="-9.385" y="0" font-size="13.0" stroke="#000" stroke-width="0.15" xml:space="preserve"> (ng/mL)</text></g>
<line x1="123.10" y1="282.70" x2="198.80" y2="282.70" stroke="#000" stroke-width="1.2"/>
<text x="160.80" y="279.80" font-size="9.6" text-anchor="middle" font-weight="normal" >n.s.</text>
<line x1="122.40" y1="323.86" x2="199.00" y2="417.51" stroke="#000" stroke-width="1.15"/>
<line x1="122.40" y1="337.32" x2="199.00" y2="387.12" stroke="#000" stroke-width="1.15"/>
<line x1="122.40" y1="350.19" x2="199.00" y2="290.79" stroke="#000" stroke-width="1.15"/>
<line x1="122.40" y1="414.34" x2="199.00" y2="355.63" stroke="#000" stroke-width="1.15"/>
<line x1="122.40" y1="415.03" x2="199.00" y2="385.24" stroke="#000" stroke-width="1.15"/>
<line x1="122.40" y1="415.53" x2="199.00" y2="387.31" stroke="#000" stroke-width="1.15"/>
<line x1="122.40" y1="389.39" x2="199.00" y2="410.08" stroke="#000" stroke-width="1.15"/>
<line x1="122.40" y1="395.23" x2="199.00" y2="407.61" stroke="#000" stroke-width="1.15"/>
<line x1="122.40" y1="397.71" x2="199.00" y2="411.57" stroke="#000" stroke-width="1.15"/>
<line x1="122.40" y1="400.18" x2="199.00" y2="408.60" stroke="#000" stroke-width="1.15"/>
<line x1="122.40" y1="402.16" x2="199.00" y2="413.05" stroke="#000" stroke-width="1.15"/>
<line x1="122.40" y1="408.90" x2="199.00" y2="405.83" stroke="#000" stroke-width="1.15"/>
<line x1="122.40" y1="409.59" x2="199.00" y2="399.19" stroke="#000" stroke-width="1.15"/>
<line x1="122.40" y1="410.08" x2="199.00" y2="409.59" stroke="#000" stroke-width="1.15"/>
<line x1="122.40" y1="411.07" x2="199.00" y2="404.14" stroke="#000" stroke-width="1.15"/>
<line x1="122.40" y1="412.56" x2="199.00" y2="406.62" stroke="#000" stroke-width="1.15"/>
<line x1="122.40" y1="421.87" x2="199.00" y2="421.47" stroke="#000" stroke-width="1.15"/>
<line x1="122.40" y1="421.57" x2="199.00" y2="421.87" stroke="#000" stroke-width="1.15"/>
<line x1="122.40" y1="421.37" x2="199.00" y2="422.16" stroke="#000" stroke-width="1.15"/>
<line x1="122.40" y1="421.07" x2="199.00" y2="420.48" stroke="#000" stroke-width="1.15"/>
<line x1="122.40" y1="420.88" x2="199.00" y2="420.88" stroke="#000" stroke-width="1.15"/>
<line x1="122.40" y1="420.58" x2="199.00" y2="421.17" stroke="#000" stroke-width="1.15"/>
<line x1="122.40" y1="420.28" x2="199.00" y2="419.89" stroke="#000" stroke-width="1.15"/>
<line x1="122.40" y1="420.08" x2="199.00" y2="420.18" stroke="#000" stroke-width="1.15"/>
<line x1="122.40" y1="419.79" x2="199.00" y2="419.49" stroke="#000" stroke-width="1.15"/>
<line x1="122.40" y1="419.49" x2="199.00" y2="418.50" stroke="#000" stroke-width="1.15"/>
<line x1="122.40" y1="419.29" x2="199.00" y2="418.90" stroke="#000" stroke-width="1.15"/>
<line x1="122.40" y1="419.00" x2="199.00" y2="419.19" stroke="#000" stroke-width="1.15"/>
<line x1="122.40" y1="418.80" x2="199.00" y2="417.91" stroke="#000" stroke-width="1.15"/>
<line x1="122.40" y1="418.50" x2="199.00" y2="418.20" stroke="#000" stroke-width="1.15"/>
<line x1="122.40" y1="418.20" x2="199.00" y2="417.51" stroke="#000" stroke-width="1.15"/>
<line x1="122.40" y1="418.00" x2="199.00" y2="416.82" stroke="#000" stroke-width="1.15"/>
<line x1="122.40" y1="417.71" x2="199.00" y2="417.21" stroke="#000" stroke-width="1.15"/>
<line x1="122.40" y1="417.41" x2="199.00" y2="416.52" stroke="#000" stroke-width="1.15"/>
<line x1="122.40" y1="417.21" x2="199.00" y2="415.83" stroke="#000" stroke-width="1.15"/>
<line x1="122.40" y1="416.92" x2="199.00" y2="416.22" stroke="#000" stroke-width="1.15"/>
<line x1="122.40" y1="416.72" x2="199.00" y2="415.53" stroke="#000" stroke-width="1.15"/>
<line x1="122.40" y1="416.42" x2="199.00" y2="414.84" stroke="#000" stroke-width="1.15"/>
<line x1="122.40" y1="416.12" x2="199.00" y2="415.23" stroke="#000" stroke-width="1.15"/>
<line x1="122.40" y1="415.93" x2="199.00" y2="414.54" stroke="#000" stroke-width="1.15"/>
<line x1="122.40" y1="415.63" x2="199.00" y2="413.55" stroke="#000" stroke-width="1.15"/>
<line x1="122.40" y1="415.33" x2="199.00" y2="413.85" stroke="#000" stroke-width="1.15"/>
<line x1="122.40" y1="415.13" x2="199.00" y2="414.24" stroke="#000" stroke-width="1.15"/>
<line x1="122.40" y1="414.84" x2="199.00" y2="412.56" stroke="#000" stroke-width="1.15"/>
<line x1="122.40" y1="414.64" x2="199.00" y2="412.86" stroke="#000" stroke-width="1.15"/>
<line x1="122.40" y1="414.34" x2="199.00" y2="413.25" stroke="#000" stroke-width="1.15"/>
<circle cx="122.40" cy="323.86" r="2.35" fill="#22437f"/>
<circle cx="122.40" cy="337.32" r="2.35" fill="#22437f"/>
<circle cx="122.40" cy="350.19" r="2.35" fill="#22437f"/>
<circle cx="122.40" cy="414.34" r="2.35" fill="#22437f"/>
<circle cx="122.40" cy="415.03" r="2.35" fill="#22437f"/>
<circle cx="122.40" cy="415.53" r="2.35" fill="#22437f"/>
<circle cx="122.40" cy="389.39" r="2.35" fill="#22437f"/>
<circle cx="122.40" cy="395.23" r="2.35" fill="#22437f"/>
<circle cx="122.40" cy="397.71" r="2.35" fill="#22437f"/>
<circle cx="122.40" cy="400.18" r="2.35" fill="#22437f"/>
<circle cx="122.40" cy="402.16" r="2.35" fill="#22437f"/>
<circle cx="122.40" cy="408.90" r="2.35" fill="#22437f"/>
<circle cx="122.40" cy="409.59" r="2.35" fill="#22437f"/>
<circle cx="122.40" cy="410.08" r="2.35" fill="#22437f"/>
<circle cx="122.40" cy="411.07" r="2.35" fill="#22437f"/>
<circle cx="122.40" cy="412.56" r="2.35" fill="#22437f"/>
<circle cx="122.40" cy="421.87" r="2.35" fill="#22437f"/>
<circle cx="122.40" cy="421.57" r="2.35" fill="#22437f"/>
<circle cx="122.40" cy="421.37" r="2.35" fill="#22437f"/>
<circle cx="122.40" cy="421.07" r="2.35" fill="#22437f"/>
<circle cx="122.40" cy="420.88" r="2.35" fill="#22437f"/>
<circle cx="122.40" cy="420.58" r="2.35" fill="#22437f"/>
<circle cx="122.40" cy="420.28" r="2.35" fill="#22437f"/>
<circle cx="122.40" cy="420.08" r="2.35" fill="#22437f"/>
<circle cx="122.40" cy="419.79" r="2.35" fill="#22437f"/>
<circle cx="122.40" cy="419.49" r="2.35" fill="#22437f"/>
<circle cx="122.40" cy="419.29" r="2.35" fill="#22437f"/>
<circle cx="122.40" cy="419.00" r="2.35" fill="#22437f"/>
<circle cx="122.40" cy="418.80" r="2.35" fill="#22437f"/>
<circle cx="122.40" cy="418.50" r="2.35" fill="#22437f"/>
<circle cx="122.40" cy="418.20" r="2.35" fill="#22437f"/>
<circle cx="122.40" cy="418.00" r="2.35" fill="#22437f"/>
<circle cx="122.40" cy="417.71" r="2.35" fill="#22437f"/>
<circle cx="122.40" cy="417.41" r="2.35" fill="#22437f"/>
<circle cx="122.40" cy="417.21" r="2.35" fill="#22437f"/>
<circle cx="122.40" cy="416.92" r="2.35" fill="#22437f"/>
<circle cx="122.40" cy="416.72" r="2.35" fill="#22437f"/>
<circle cx="122.40" cy="416.42" r="2.35" fill="#22437f"/>
<circle cx="122.40" cy="416.12" r="2.35" fill="#22437f"/>
<circle cx="122.40" cy="415.93" r="2.35" fill="#22437f"/>
<circle cx="122.40" cy="415.63" r="2.35" fill="#22437f"/>
<circle cx="122.40" cy="415.33" r="2.35" fill="#22437f"/>
<circle cx="122.40" cy="415.13" r="2.35" fill="#22437f"/>
<circle cx="122.40" cy="414.84" r="2.35" fill="#22437f"/>
<circle cx="122.40" cy="414.64" r="2.35" fill="#22437f"/>
<circle cx="122.40" cy="414.34" r="2.35" fill="#22437f"/>
<path d="M199.00,414.91L201.60,417.51L199.00,420.11L196.40,417.51Z" fill="#a5002f"/>
<path d="M199.00,384.52L201.60,387.12L199.00,389.72L196.40,387.12Z" fill="#a5002f"/>
<path d="M199.00,288.19L201.60,290.79L199.00,293.39L196.40,290.79Z" fill="#a5002f"/>
<path d="M199.00,353.03L201.60,355.63L199.00,358.24L196.40,355.63Z" fill="#a5002f"/>
<path d="M199.00,382.64L201.60,385.24L199.00,387.84L196.40,385.24Z" fill="#a5002f"/>
<path d="M199.00,384.71L201.60,387.31L199.00,389.91L196.40,387.31Z" fill="#a5002f"/>
<path d="M199.00,407.48L201.60,410.08L199.00,412.69L196.40,410.08Z" fill="#a5002f"/>
<path d="M199.00,405.01L201.60,407.61L199.00,410.21L196.40,407.61Z" fill="#a5002f"/>
<path d="M199.00,408.97L201.60,411.57L199.00,414.17L196.40,411.57Z" fill="#a5002f"/>
<path d="M199.00,406.00L201.60,408.60L199.00,411.20L196.40,408.60Z" fill="#a5002f"/>
<path d="M199.00,410.45L201.60,413.05L199.00,415.65L196.40,413.05Z" fill="#a5002f"/>
<path d="M199.00,403.23L201.60,405.83L199.00,408.43L196.40,405.83Z" fill="#a5002f"/>
<path d="M199.00,396.59L201.60,399.19L199.00,401.80L196.40,399.19Z" fill="#a5002f"/>
<path d="M199.00,406.99L201.60,409.59L199.00,412.19L196.40,409.59Z" fill="#a5002f"/>
<path d="M199.00,401.54L201.60,404.14L199.00,406.75L196.40,404.14Z" fill="#a5002f"/>
<path d="M199.00,404.02L201.60,406.62L199.00,409.22L196.40,406.62Z" fill="#a5002f"/>
<path d="M199.00,418.87L201.60,421.47L199.00,424.07L196.40,421.47Z" fill="#a5002f"/>
<path d="M199.00,419.27L201.60,421.87L199.00,424.47L196.40,421.87Z" fill="#a5002f"/>
<path d="M199.00,419.56L201.60,422.16L199.00,424.76L196.40,422.16Z" fill="#a5002f"/>
<path d="M199.00,417.88L201.60,420.48L199.00,423.08L196.40,420.48Z" fill="#a5002f"/>
<path d="M199.00,418.28L201.60,420.88L199.00,423.48L196.40,420.88Z" fill="#a5002f"/>
<path d="M199.00,418.57L201.60,421.17L199.00,423.77L196.40,421.17Z" fill="#a5002f"/>
<path d="M199.00,417.29L201.60,419.89L199.00,422.49L196.40,419.89Z" fill="#a5002f"/>
<path d="M199.00,417.58L201.60,420.18L199.00,422.78L196.40,420.18Z" fill="#a5002f"/>
<path d="M199.00,416.89L201.60,419.49L199.00,422.09L196.40,419.49Z" fill="#a5002f"/>
<path d="M199.00,415.90L201.60,418.50L199.00,421.10L196.40,418.50Z" fill="#a5002f"/>
<path d="M199.00,416.30L201.60,418.90L199.00,421.50L196.40,418.90Z" fill="#a5002f"/>
<path d="M199.00,416.59L201.60,419.19L199.00,421.79L196.40,419.19Z" fill="#a5002f"/>
<path d="M199.00,415.31L201.60,417.91L199.00,420.51L196.40,417.91Z" fill="#a5002f"/>
<path d="M199.00,415.60L201.60,418.20L199.00,420.80L196.40,418.20Z" fill="#a5002f"/>
<path d="M199.00,414.91L201.60,417.51L199.00,420.11L196.40,417.51Z" fill="#a5002f"/>
<path d="M199.00,414.22L201.60,416.82L199.00,419.42L196.40,416.82Z" fill="#a5002f"/>
<path d="M199.00,414.61L201.60,417.21L199.00,419.81L196.40,417.21Z" fill="#a5002f"/>
<path d="M199.00,413.92L201.60,416.52L199.00,419.12L196.40,416.52Z" fill="#a5002f"/>
<path d="M199.00,413.23L201.60,415.83L199.00,418.43L196.40,415.83Z" fill="#a5002f"/>
<path d="M199.00,413.62L201.60,416.22L199.00,418.82L196.40,416.22Z" fill="#a5002f"/>
<path d="M199.00,412.93L201.60,415.53L199.00,418.13L196.40,415.53Z" fill="#a5002f"/>
<path d="M199.00,412.24L201.60,414.84L199.00,417.44L196.40,414.84Z" fill="#a5002f"/>
<path d="M199.00,412.63L201.60,415.23L199.00,417.83L196.40,415.23Z" fill="#a5002f"/>
<path d="M199.00,411.94L201.60,414.54L199.00,417.14L196.40,414.54Z" fill="#a5002f"/>
<path d="M199.00,410.95L201.60,413.55L199.00,416.15L196.40,413.55Z" fill="#a5002f"/>
<path d="M199.00,411.25L201.60,413.85L199.00,416.45L196.40,413.85Z" fill="#a5002f"/>
<path d="M199.00,411.64L201.60,414.24L199.00,416.84L196.40,414.24Z" fill="#a5002f"/>
<path d="M199.00,409.96L201.60,412.56L199.00,415.16L196.40,412.56Z" fill="#a5002f"/>
<path d="M199.00,410.26L201.60,412.86L199.00,415.46L196.40,412.86Z" fill="#a5002f"/>
<path d="M199.00,410.65L201.60,413.25L199.00,415.85L196.40,413.25Z" fill="#a5002f"/>
<line x1="332.40" y1="274.70" x2="332.40" y2="429.25" stroke="#000" stroke-width="1.3"/>
<line x1="331.75" y1="428.60" x2="510.40" y2="428.60" stroke="#000" stroke-width="1.6"/>
<line x1="328.40" y1="278.10" x2="332.40" y2="278.10" stroke="#000" stroke-width="1.3"/>
<g transform="translate(324.60,281.60) scale(1.0,0.93)"><path d="M763 0H583V1147Q518 1085 412 1023Q306 961 222 930V1104Q373 1175 486 1276Q599 1377 646 1472H763Z" transform="translate(-12.458,0) scale(0.00547,-0.00523)"/><text x="-6.229" y="0" font-size="11.2" class="t" xml:space="preserve">5</text></g>
<line x1="328.40" y1="328.20" x2="332.40" y2="328.20" stroke="#000" stroke-width="1.3"/>
<g transform="translate(324.60,331.70) scale(1.0,0.93)"><path d="M763 0H583V1147Q518 1085 412 1023Q306 961 222 930V1104Q373 1175 486 1276Q599 1377 646 1472H763Z" transform="translate(-12.458,0) scale(0.00547,-0.00523)"/><text x="-6.229" y="0" font-size="11.2" class="t" xml:space="preserve">0</text></g>
<line x1="328.40" y1="378.30" x2="332.40" y2="378.30" stroke="#000" stroke-width="1.3"/>
<g transform="translate(324.60,381.80) scale(1.0,0.93)"><text x="-6.229" y="0" font-size="11.2" class="t" xml:space="preserve">5</text></g>
<line x1="328.40" y1="428.40" x2="332.40" y2="428.40" stroke="#000" stroke-width="1.3"/>
<g transform="translate(324.60,431.90) scale(1.0,0.93)"><text x="-6.229" y="0" font-size="11.2" class="t" xml:space="preserve">0</text></g>
<line x1="383.70" y1="428.60" x2="383.70" y2="432.60" stroke="#000" stroke-width="1.3"/>
<text transform="translate(383.70,446.40) scale(0.9,1.0)" font-size="11.0" text-anchor="middle" font-weight="normal" class="t">Initi.</text>
<g transform="translate(383.70,459.00) scale(1.0,1.0)"><text x="-16.052" y="0" font-size="11.0" class="t" xml:space="preserve">(n=46)</text></g>
<line x1="460.80" y1="428.60" x2="460.80" y2="432.60" stroke="#000" stroke-width="1.3"/>
<text transform="translate(460.80,446.40) scale(0.92,1.0)" font-size="11.0" text-anchor="middle" font-weight="normal" class="t">Remi.</text>
<g transform="translate(460.80,459.00) scale(1.0,1.0)"><text x="-16.052" y="0" font-size="11.0" class="t" xml:space="preserve">(n=46)</text></g>
<g transform="translate(303.60,352.00) rotate(-90) scale(0.735,1.0)"><text x="-36.835" y="0" font-size="13.0" stroke="#000" stroke-width="0.15" xml:space="preserve">sTM (ng/mL)</text></g>
<line x1="383.50" y1="300.20" x2="459.80" y2="300.20" stroke="#000" stroke-width="1.2"/>
<text x="421.60" y="297.70" font-size="9.6" text-anchor="middle" font-weight="normal" >n.s.</text>
<line x1="383.70" y1="324.69" x2="460.80" y2="335.71" stroke="#000" stroke-width="1.15"/>
<line x1="383.70" y1="326.80" x2="460.80" y2="372.29" stroke="#000" stroke-width="1.15"/>
<line x1="383.70" y1="339.22" x2="460.80" y2="336.22" stroke="#000" stroke-width="1.15"/>
<line x1="383.70" y1="342.73" x2="460.80" y2="356.76" stroke="#000" stroke-width="1.15"/>
<line x1="383.70" y1="345.23" x2="460.80" y2="403.85" stroke="#000" stroke-width="1.15"/>
<line x1="383.70" y1="350.75" x2="460.80" y2="338.72" stroke="#000" stroke-width="1.15"/>
<line x1="383.70" y1="353.25" x2="460.80" y2="362.27" stroke="#000" stroke-width="1.15"/>
<line x1="383.70" y1="356.76" x2="460.80" y2="378.30" stroke="#000" stroke-width="1.15"/>
<line x1="383.70" y1="359.76" x2="460.80" y2="362.27" stroke="#000" stroke-width="1.15"/>
<line x1="383.70" y1="376.30" x2="460.80" y2="350.24" stroke="#000" stroke-width="1.15"/>
<line x1="383.70" y1="381.31" x2="460.80" y2="352.25" stroke="#000" stroke-width="1.15"/>
<line x1="383.70" y1="370.28" x2="460.80" y2="357.26" stroke="#000" stroke-width="1.15"/>
<line x1="383.70" y1="367.68" x2="460.80" y2="394.33" stroke="#000" stroke-width="1.15"/>
<line x1="383.70" y1="401.35" x2="460.80" y2="381.31" stroke="#000" stroke-width="1.15"/>
<line x1="383.70" y1="402.05" x2="460.80" y2="389.32" stroke="#000" stroke-width="1.15"/>
<line x1="383.70" y1="401.55" x2="460.80" y2="380.70" stroke="#000" stroke-width="1.15"/>
<line x1="383.70" y1="401.75" x2="460.80" y2="398.24" stroke="#000" stroke-width="1.15"/>
<line x1="383.70" y1="397.74" x2="460.80" y2="378.30" stroke="#000" stroke-width="1.15"/>
<line x1="383.70" y1="397.64" x2="460.80" y2="372.69" stroke="#000" stroke-width="1.15"/>
<line x1="383.70" y1="397.84" x2="460.80" y2="380.80" stroke="#000" stroke-width="1.15"/>
<line x1="383.70" y1="397.54" x2="460.80" y2="392.53" stroke="#000" stroke-width="1.15"/>
<line x1="383.70" y1="393.03" x2="460.80" y2="378.40" stroke="#000" stroke-width="1.15"/>
<line x1="383.70" y1="393.53" x2="460.80" y2="383.61" stroke="#000" stroke-width="1.15"/>
<line x1="383.70" y1="393.33" x2="460.80" y2="398.74" stroke="#000" stroke-width="1.15"/>
<line x1="383.70" y1="389.22" x2="460.80" y2="389.92" stroke="#000" stroke-width="1.15"/>
<line x1="383.70" y1="389.52" x2="460.80" y2="389.82" stroke="#000" stroke-width="1.15"/>
<line x1="383.70" y1="389.62" x2="460.80" y2="390.02" stroke="#000" stroke-width="1.15"/>
<line x1="383.70" y1="389.12" x2="460.80" y2="392.83" stroke="#000" stroke-width="1.15"/>
<line x1="383.70" y1="384.81" x2="460.80" y2="398.74" stroke="#000" stroke-width="1.15"/>
<line x1="383.70" y1="385.21" x2="460.80" y2="395.23" stroke="#000" stroke-width="1.15"/>
<line x1="383.70" y1="385.21" x2="460.80" y2="392.53" stroke="#000" stroke-width="1.15"/>
<line x1="383.70" y1="385.31" x2="460.80" y2="372.19" stroke="#000" stroke-width="1.15"/>
<line x1="383.70" y1="381.11" x2="460.80" y2="398.54" stroke="#000" stroke-width="1.15"/>
<line x1="383.70" y1="381.41" x2="460.80" y2="378.10" stroke="#000" stroke-width="1.15"/>
<line x1="383.70" y1="380.60" x2="460.80" y2="384.11" stroke="#000" stroke-width="1.15"/>
<line x1="383.70" y1="376.70" x2="460.80" y2="381.41" stroke="#000" stroke-width="1.15"/>
<line x1="383.70" y1="376.90" x2="460.80" y2="386.82" stroke="#000" stroke-width="1.15"/>
<line x1="383.70" y1="376.70" x2="460.80" y2="372.49" stroke="#000" stroke-width="1.15"/>
<line x1="383.70" y1="376.80" x2="460.80" y2="395.03" stroke="#000" stroke-width="1.15"/>
<line x1="383.70" y1="372.49" x2="460.80" y2="395.53" stroke="#000" stroke-width="1.15"/>
<line x1="383.70" y1="372.79" x2="460.80" y2="383.91" stroke="#000" stroke-width="1.15"/>
<line x1="383.70" y1="372.29" x2="460.80" y2="375.59" stroke="#000" stroke-width="1.15"/>
<line x1="383.70" y1="372.39" x2="460.80" y2="386.42" stroke="#000" stroke-width="1.15"/>
<line x1="383.70" y1="368.48" x2="460.80" y2="386.32" stroke="#000" stroke-width="1.15"/>
<line x1="383.70" y1="368.98" x2="460.80" y2="375.39" stroke="#000" stroke-width="1.15"/>
<line x1="383.70" y1="368.18" x2="460.80" y2="375.09" stroke="#000" stroke-width="1.15"/>
<line x1="372.20" y1="387.90" x2="383.50" y2="386.00" stroke="#000" stroke-width="1.0"/>
<circle cx="383.70" cy="324.69" r="2.35" fill="#22437f"/>
<circle cx="383.70" cy="326.80" r="2.35" fill="#22437f"/>
<circle cx="383.70" cy="339.22" r="2.35" fill="#22437f"/>
<circle cx="383.70" cy="342.73" r="2.35" fill="#22437f"/>
<circle cx="383.70" cy="345.23" r="2.35" fill="#22437f"/>
<circle cx="383.70" cy="350.75" r="2.35" fill="#22437f"/>
<circle cx="383.70" cy="353.25" r="2.35" fill="#22437f"/>
<circle cx="383.70" cy="356.76" r="2.35" fill="#22437f"/>
<circle cx="383.70" cy="359.76" r="2.35" fill="#22437f"/>
<circle cx="383.70" cy="376.30" r="2.35" fill="#22437f"/>
<circle cx="383.70" cy="381.31" r="2.35" fill="#22437f"/>
<circle cx="383.70" cy="370.28" r="2.35" fill="#22437f"/>
<circle cx="383.70" cy="367.68" r="2.35" fill="#22437f"/>
<circle cx="383.70" cy="401.35" r="2.35" fill="#22437f"/>
<circle cx="383.70" cy="402.05" r="2.35" fill="#22437f"/>
<circle cx="383.70" cy="401.55" r="2.35" fill="#22437f"/>
<circle cx="383.70" cy="401.75" r="2.35" fill="#22437f"/>
<circle cx="383.70" cy="397.74" r="2.35" fill="#22437f"/>
<circle cx="383.70" cy="397.64" r="2.35" fill="#22437f"/>
<circle cx="383.70" cy="397.84" r="2.35" fill="#22437f"/>
<circle cx="383.70" cy="397.54" r="2.35" fill="#22437f"/>
<circle cx="383.70" cy="393.03" r="2.35" fill="#22437f"/>
<circle cx="383.70" cy="393.53" r="2.35" fill="#22437f"/>
<circle cx="383.70" cy="393.33" r="2.35" fill="#22437f"/>
<circle cx="383.70" cy="389.22" r="2.35" fill="#22437f"/>
<circle cx="383.70" cy="389.52" r="2.35" fill="#22437f"/>
<circle cx="383.70" cy="389.62" r="2.35" fill="#22437f"/>
<circle cx="383.70" cy="389.12" r="2.35" fill="#22437f"/>
<circle cx="383.70" cy="384.81" r="2.35" fill="#22437f"/>
<circle cx="383.70" cy="385.21" r="2.35" fill="#22437f"/>
<circle cx="383.70" cy="385.21" r="2.35" fill="#22437f"/>
<circle cx="383.70" cy="385.31" r="2.35" fill="#22437f"/>
<circle cx="383.70" cy="381.11" r="2.35" fill="#22437f"/>
<circle cx="383.70" cy="381.41" r="2.35" fill="#22437f"/>
<circle cx="383.70" cy="380.60" r="2.35" fill="#22437f"/>
<circle cx="383.70" cy="376.70" r="2.35" fill="#22437f"/>
<circle cx="383.70" cy="376.90" r="2.35" fill="#22437f"/>
<circle cx="383.70" cy="376.70" r="2.35" fill="#22437f"/>
<circle cx="383.70" cy="376.80" r="2.35" fill="#22437f"/>
<circle cx="383.70" cy="372.49" r="2.35" fill="#22437f"/>
<circle cx="383.70" cy="372.79" r="2.35" fill="#22437f"/>
<circle cx="383.70" cy="372.29" r="2.35" fill="#22437f"/>
<circle cx="383.70" cy="372.39" r="2.35" fill="#22437f"/>
<circle cx="383.70" cy="368.48" r="2.35" fill="#22437f"/>
<circle cx="383.70" cy="368.98" r="2.35" fill="#22437f"/>
<circle cx="383.70" cy="368.18" r="2.35" fill="#22437f"/>
<path d="M460.80,333.11L463.40,335.71L460.80,338.31L458.20,335.71Z" fill="#a5002f"/>
<path d="M460.80,369.69L463.40,372.29L460.80,374.89L458.20,372.29Z" fill="#a5002f"/>
<path d="M460.80,333.62L463.40,336.22L460.80,338.82L458.20,336.22Z" fill="#a5002f"/>
<path d="M460.80,354.16L463.40,356.76L460.80,359.36L458.20,356.76Z" fill="#a5002f"/>
<path d="M460.80,401.25L463.40,403.85L460.80,406.45L458.20,403.85Z" fill="#a5002f"/>
<path d="M460.80,336.12L463.40,338.72L460.80,341.32L458.20,338.72Z" fill="#a5002f"/>
<path d="M460.80,359.67L463.40,362.27L460.80,364.87L458.20,362.27Z" fill="#a5002f"/>
<path d="M460.80,375.70L463.40,378.30L460.80,380.90L458.20,378.30Z" fill="#a5002f"/>
<path d="M460.80,359.67L463.40,362.27L460.80,364.87L458.20,362.27Z" fill="#a5002f"/>
<path d="M460.80,347.64L463.40,350.24L460.80,352.84L458.20,350.24Z" fill="#a5002f"/>
<path d="M460.80,349.65L463.40,352.25L460.80,354.85L458.20,352.25Z" fill="#a5002f"/>
<path d="M460.80,354.66L463.40,357.26L460.80,359.86L458.20,357.26Z" fill="#a5002f"/>
<path d="M460.80,391.73L463.40,394.33L460.80,396.93L458.20,394.33Z" fill="#a5002f"/>
<path d="M460.80,378.71L463.40,381.31L460.80,383.91L458.20,381.31Z" fill="#a5002f"/>
<path d="M460.80,386.72L463.40,389.32L460.80,391.92L458.20,389.32Z" fill="#a5002f"/>
<path d="M460.80,378.10L463.40,380.70L460.80,383.30L458.20,380.70Z" fill="#a5002f"/>
<path d="M460.80,395.64L463.40,398.24L460.80,400.84L458.20,398.24Z" fill="#a5002f"/>
<path d="M460.80,375.70L463.40,378.30L460.80,380.90L458.20,378.30Z" fill="#a5002f"/>
<path d="M460.80,370.09L463.40,372.69L460.80,375.29L458.20,372.69Z" fill="#a5002f"/>
<path d="M460.80,378.20L463.40,380.80L460.80,383.40L458.20,380.80Z" fill="#a5002f"/>
<path d="M460.80,389.93L463.40,392.53L460.80,395.13L458.20,392.53Z" fill="#a5002f"/>
<path d="M460.80,375.80L463.40,378.40L460.80,381.00L458.20,378.40Z" fill="#a5002f"/>
<path d="M460.80,381.01L463.40,383.61L460.80,386.21L458.20,383.61Z" fill="#a5002f"/>
<path d="M460.80,396.14L463.40,398.74L460.80,401.34L458.20,398.74Z" fill="#a5002f"/>
<path d="M460.80,387.32L463.40,389.92L460.80,392.52L458.20,389.92Z" fill="#a5002f"/>
<path d="M460.80,387.22L463.40,389.82L460.80,392.42L458.20,389.82Z" fill="#a5002f"/>
<path d="M460.80,387.42L463.40,390.02L460.80,392.62L458.20,390.02Z" fill="#a5002f"/>
<path d="M460.80,390.23L463.40,392.83L460.80,395.43L458.20,392.83Z" fill="#a5002f"/>
<path d="M460.80,396.14L463.40,398.74L460.80,401.34L458.20,398.74Z" fill="#a5002f"/>
<path d="M460.80,392.63L463.40,395.23L460.80,397.83L458.20,395.23Z" fill="#a5002f"/>
<path d="M460.80,389.93L463.40,392.53L460.80,395.13L458.20,392.53Z" fill="#a5002f"/>
<path d="M460.80,369.59L463.40,372.19L460.80,374.79L458.20,372.19Z" fill="#a5002f"/>
<path d="M460.80,395.94L463.40,398.54L460.80,401.14L458.20,398.54Z" fill="#a5002f"/>
<path d="M460.80,375.50L463.40,378.10L460.80,380.70L458.20,378.10Z" fill="#a5002f"/>
<path d="M460.80,381.51L463.40,384.11L460.80,386.71L458.20,384.11Z" fill="#a5002f"/>
<path d="M460.80,378.81L463.40,381.41L460.80,384.01L458.20,381.41Z" fill="#a5002f"/>
<path d="M460.80,384.22L463.40,386.82L460.80,389.42L458.20,386.82Z" fill="#a5002f"/>
<path d="M460.80,369.89L463.40,372.49L460.80,375.09L458.20,372.49Z" fill="#a5002f"/>
<path d="M460.80,392.43L463.40,395.03L460.80,397.63L458.20,395.03Z" fill="#a5002f"/>
<path d="M460.80,392.93L463.40,395.53L460.80,398.13L458.20,395.53Z" fill="#a5002f"/>
<path d="M460.80,381.31L463.40,383.91L460.80,386.51L458.20,383.91Z" fill="#a5002f"/>
<path d="M460.80,372.99L463.40,375.59L460.80,378.19L458.20,375.59Z" fill="#a5002f"/>
<path d="M460.80,383.82L463.40,386.42L460.80,389.02L458.20,386.42Z" fill="#a5002f"/>
<path d="M460.80,383.72L463.40,386.32L460.80,388.92L458.20,386.32Z" fill="#a5002f"/>
<path d="M460.80,372.79L463.40,375.39L460.80,377.99L458.20,375.39Z" fill="#a5002f"/>
<path d="M460.80,372.49L463.40,375.09L460.80,377.69L458.20,375.09Z" fill="#a5002f"/>
</svg>
</body></html>
